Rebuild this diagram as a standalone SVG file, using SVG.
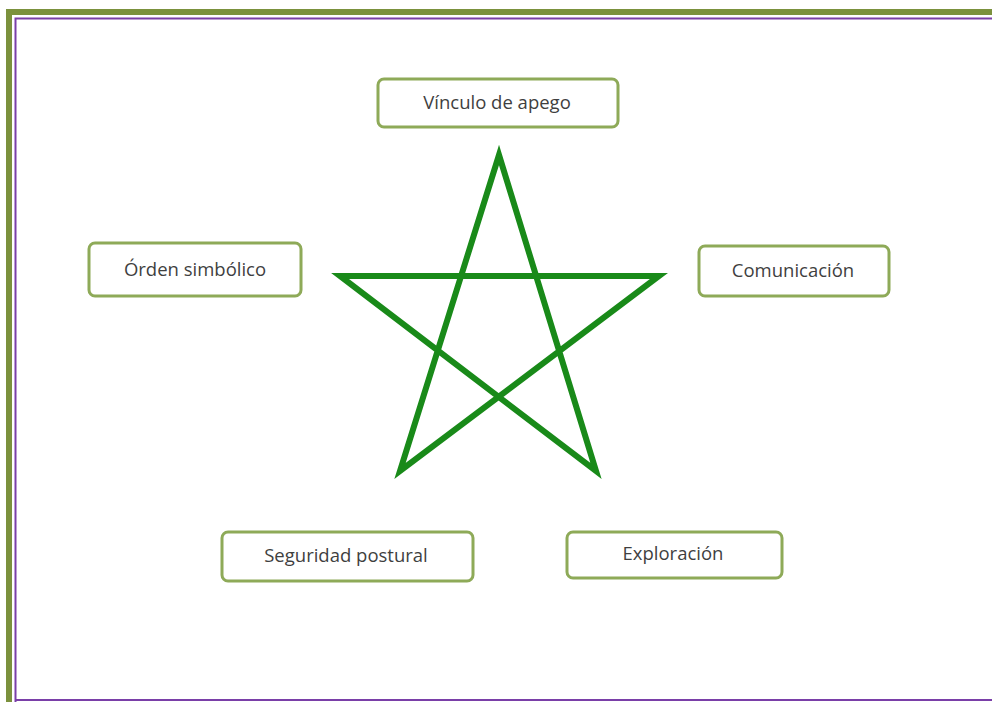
<svg xmlns="http://www.w3.org/2000/svg" width="992" height="702" viewBox="0 0 992 702">
<style>
.box{fill:#ffffff;stroke:#8eaa58;stroke-width:3}
.lbl{font-family:"Open Sans","Liberation Sans",sans-serif;font-size:18.5px;fill:#3f3f3f;text-anchor:middle}
</style>
<rect x="0" y="0" width="992" height="702" fill="#ffffff"/>
<g id="frame">
<rect x="6" y="9" width="986" height="6" fill="#7b913d"/>
<rect x="6" y="9" width="6" height="693" fill="#7b913d"/>
<path d="M15.5 702 V18.5 H992" fill="none" stroke="#7a3fa8" stroke-width="2"/>
<line x1="15" y1="700" x2="992" y2="700" stroke="#7a3fa8" stroke-width="2"/>
</g>
<g id="connectors">
<path id="star" d="M499 155 L596 471 L340 276 L659 276 L400 471 Z" fill="none" stroke="#198a19" stroke-width="6" stroke-linejoin="miter" stroke-miterlimit="20"/>
</g>
<g id="n-vinculo"><rect class="box" x="378" y="79" width="240" height="48" rx="6"/><text class="lbl" x="497" y="109">Vínculo de apego</text></g>
<g id="n-orden"><rect class="box" x="89" y="243" width="212" height="53" rx="6"/><text class="lbl" x="195" y="276">Órden simbólico</text></g>
<g id="n-comunicacion"><rect class="box" x="699" y="246" width="190" height="50" rx="6"/><text class="lbl" x="793" y="277">Comunicación</text></g>
<g id="n-seguridad"><rect class="box" x="222" y="532" width="251" height="49" rx="6"/><text class="lbl" x="346" y="562">Seguridad postural</text></g>
<g id="n-exploracion"><rect class="box" x="567" y="532" width="215" height="46" rx="6"/><text class="lbl" x="673" y="560">Exploración</text></g>
</svg>
